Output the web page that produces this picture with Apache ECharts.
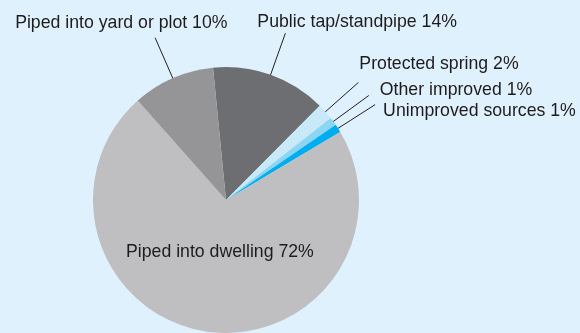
<!DOCTYPE html>
<html>
<head>
<meta charset="utf-8">
<script src="https://cdn.jsdelivr.net/npm/echarts@6/dist/echarts.min.js"></script>
<style>
  html, body { margin: 0; padding: 0; background: #dff1fc; }
  #chart { width: 580px; height: 333px; }
</style>
</head>
<body>
<div id="chart"></div>
<script>
// Main drinking-water source, share of population (%)
const categories = [
  'Public tap/standpipe',
  'Protected spring',
  'Other improved',
  'Unimproved sources',
  'Piped into dwelling',
  'Piped into yard or plot'
];
const shares = [14, 2, 1, 1, 72, 10];

const sliceColors = ['#6d6e71', '#c8e9f8', '#8dd6f3', '#00aeef', '#bfbfc1', '#959598'];
// The large slice carries its label inside the pie
const centreLabelIndex = 4;
// Label text anchor (left edge, vertical middle) relative to the outer end of each leader line;
// for the centre label it is relative to the pie centre
const labelOffsets = [[-28, -11], [1, -18], [11, -5], [8, 6], [-100, 52], [-140, -15]];
const leaderInset = 8;

const chart = echarts.init(document.getElementById('chart'), null, { renderer: 'canvas' });

const seriesData = categories.map((name, i) => {
  const item = { name: name, value: shares[i], itemStyle: { color: sliceColors[i] } };
  if (i === centreLabelIndex) {
    item.label = { position: 'center' };
    item.labelLine = { show: false };
  }
  return item;
});

chart.setOption({
  backgroundColor: '#dff1fc',
  animation: false,
  series: [{
    type: 'pie',
    center: [226, 200],
    radius: 133,
    startAngle: 95.6,
    clockwise: true,
    avoidLabelOverlap: false,
    data: seriesData,
    itemStyle: { borderWidth: 0 },
    label: {
      show: true,
      position: 'outside',
      formatter: '{b} {c}%',
      color: '#1e1b1c',
      fontFamily: 'Liberation Sans, Arial, sans-serif',
      fontSize: 17.7
    },
    labelLine: {
      show: true,
      length: 44,
      length2: 0,
      lineStyle: { color: '#231f20', width: 1 }
    },
    labelLayout: function (p) {
      const off = labelOffsets[p.dataIndex];
      if (p.dataIndex === centreLabelIndex || !p.labelLinePoints) {
        return {
          x: p.labelRect.x + p.labelRect.width / 2 + off[0],
          y: p.labelRect.y + p.labelRect.height / 2 + off[1],
          align: 'left',
          verticalAlign: 'middle'
        };
      }
      const a = p.labelLinePoints[0];
      const b = p.labelLinePoints[1];
      const len = Math.hypot(b[0] - a[0], b[1] - a[1]) || 1;
      const ux = (b[0] - a[0]) / len;
      const uy = (b[1] - a[1]) / len;
      // leader starts a little inside the slice and runs radially outwards
      const start = [a[0] - ux * leaderInset, a[1] - uy * leaderInset];
      return {
        x: b[0] + off[0],
        y: b[1] + off[1],
        align: 'left',
        verticalAlign: 'middle',
        labelLinePoints: [start, b, b]
      };
    },
    emphasis: { disabled: true }
  }]
});
</script>
</body>
</html>
